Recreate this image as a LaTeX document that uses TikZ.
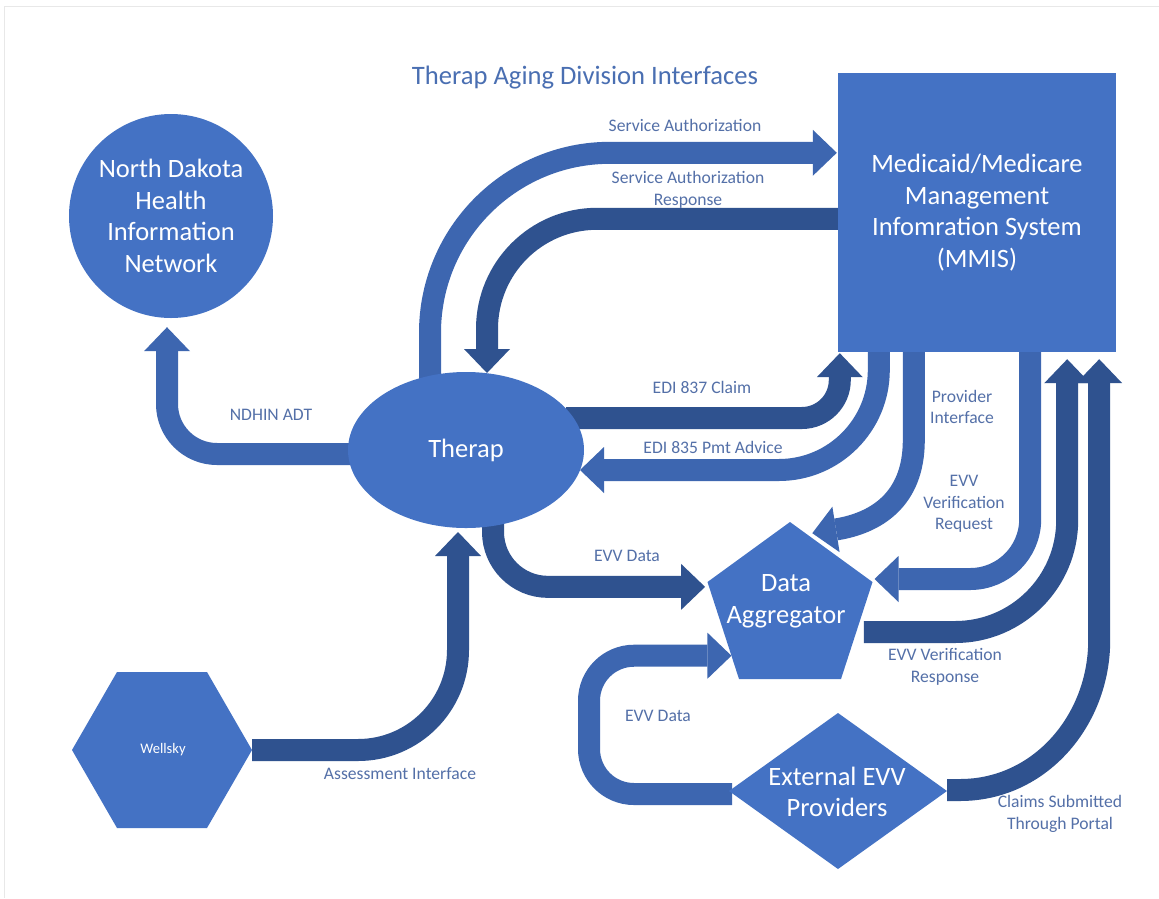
\documentclass[tikz,border=0pt]{standalone}
\usepackage{fontspec}
\setmainfont{Carlito}
\usetikzlibrary{arrows.meta,shapes.geometric,backgrounds,calc}
\definecolor{nodeblue}{HTML}{4472C4}
\definecolor{medblue}{HTML}{3D66B0}
\definecolor{darkblue}{HTML}{2F528F}
\definecolor{labelblue}{HTML}{5470A8}
\definecolor{titleblue}{HTML}{4A6FB2}
\tikzset{
  shapebox/.style={fill=nodeblue, text=white, inner sep=0pt, align=center, font=\fontsize{26.5}{31.7}\selectfont},
  shapetext/.style={text=white, inner sep=0pt, align=center, font=\fontsize{26.5}{31.7}\selectfont},
  lbl/.style={text=labelblue, align=center, inner sep=0pt, font=\fontsize{17.6}{21.5}\selectfont},
  flow/.style={line width=22pt, -{Triangle[width=46pt,length=24pt,line width=0pt]}},
  flowm/.style={flow, draw=medblue},
  flowd/.style={flow, draw=darkblue},
}
\begin{document}
\begin{tikzpicture}[x=1pt,y=-1pt]
\useasboundingbox (0,0) rectangle (1159,898);
% main shapes
\node[shapebox, circle, minimum size=204pt] (ndhin) at (171,216) {North Dakota\\Health\\Information\\Network};
\node[shapebox, rectangle, minimum width=278pt, minimum height=279pt] (mmis) at (977,212.5) {Medicaid/Medicare\\Management\\Infomration System\\(MMIS)};
\node[shapebox, ellipse, minimum width=236pt, minimum height=156pt] (therap) at (466,450) {Therap};
% pentagon
\coordinate (pTop) at (790,522);
\coordinate (pRight) at (872.5,582);
\coordinate (pBR) at (841,679);
\coordinate (pBL) at (739,679);
\coordinate (pLeft) at (707.5,582);
\fill[nodeblue] (pTop) -- (pRight) -- (pBR) -- (pBL) -- (pLeft) -- cycle;
\node[shapetext] (da) at (786,601) {Data\\Aggregator};
% diamond
\coordinate (diaL) at (729,791);
\coordinate (diaT) at (838,713);
\coordinate (diaR) at (947,791);
\coordinate (diaB) at (838,869);
\fill[nodeblue] (diaL) -- (diaT) -- (diaR) -- (diaB) -- cycle;
\node[shapetext] (ext) at (837,792) {External EVV\\Providers};
% hexagon
\coordinate (hexL) at (72,750);
\coordinate (hexR) at (252,750);
\fill[nodeblue] (hexL) -- (117,672) -- (207,672) -- (hexR) -- (207,828) -- (117,828) -- cycle;
\node[shapetext, font=\fontsize{14.6}{17}\selectfont] (wellsky) at (163,750) {Wellsky};
% title
\node[text=titleblue, inner sep=0pt, font=\fontsize{26.6}{30}\selectfont] (title) at (585,78) {Therap Aging Division Interfaces};
% connectors
\begin{scope}[on background layer]
\fill[white] (0,0) rectangle (1159,898);
\draw[black!9, line width=1pt] (4,898) -- (4,6) -- (1159,6);
\draw[flowm, rounded corners=50pt] ($(therap.west)+(8,4)$) -| ($(ndhin.south)+(-4,9)$);
\draw[flowm, rounded corners=180pt] ($(therap.center)+(-36,-60)$) |- ($(mmis.north west)+(-1,80)$);
\draw[flowd, rounded corners=110pt] ($(mmis.north west)+(0,146)$) -| ($(therap.center)+(21,-77)$);
\draw[flowd, rounded corners=38pt] ($(therap.center)+(100,-32)$) -| ($(mmis.south west)+(2,1)$);
\draw[flowm, rounded corners=100pt] ($(mmis.south west)+(41,0)$) |- ($(therap.center)+(114,20)$);
\draw[flowm] ($(mmis.south west)+(76,0)$) -- ++(0,88) .. controls +(0,60) and +(63,-10) .. ($(pTop)!0.27!(pRight)+(0,-5)$);
\draw[flowm, rounded corners=60pt] ($(mmis.south east)+(-86,0)$) |- ($(pRight)+(2,-3)$);
\draw[flowd, rounded corners=112pt] ($(pRight)!0.5!(pBR)+(7,1.5)$) -| ($(mmis.south east)+(-49,7)$);
\draw[flowd] ($(diaR)+(0,-1)$) -- ++(13,0) .. controls +(80,0) and +(0,80) .. ($(mmis.south east)+(-17,288)$) -- ($(mmis.south east)+(-17,7)$);
\draw[flowd, rounded corners=55pt] ($(therap.center)+(27,65)$) |- ($(pLeft)!0.05!(pBL)+(-4,0)$);
\draw[flowm, rounded corners=45pt] ($(diaL)+(3,3)$) -- ++(-143,0) |- ($(pLeft)!0.76!(pBL)$);
\draw[flowd, rounded corners=100pt] (hexR) -| ($(therap.center)+(-8,82)$);
\end{scope}
% labels
\node[lbl] (l1) at (685,125) {Service Authorization};
\node[lbl] (l2) at (688,190) {Service Authorization\\Response};
\node[lbl] (l3) at (271,415) {NDHIN ADT};
\node[lbl] (l4) at (702,387) {EDI 837 Claim};
\node[lbl] (l5) at (713,447) {EDI 835 Pmt Advice};
\node[lbl] (l6) at (962,407) {Provider\\Interface};
\node[lbl] (l7) at (964,504) {EVV\\Verification\\Request};
\node[lbl] (l8) at (627,556) {EVV Data};
\node[lbl] (l9) at (945,667) {EVV Verification\\Response};
\node[lbl] (l10) at (658,716) {EVV Data};
\node[lbl] (l11) at (1060,814) {Claims Submitted\\Through Portal};
\node[lbl] (l12) at (400,774) {Assessment Interface};
\end{tikzpicture}
\end{document}
